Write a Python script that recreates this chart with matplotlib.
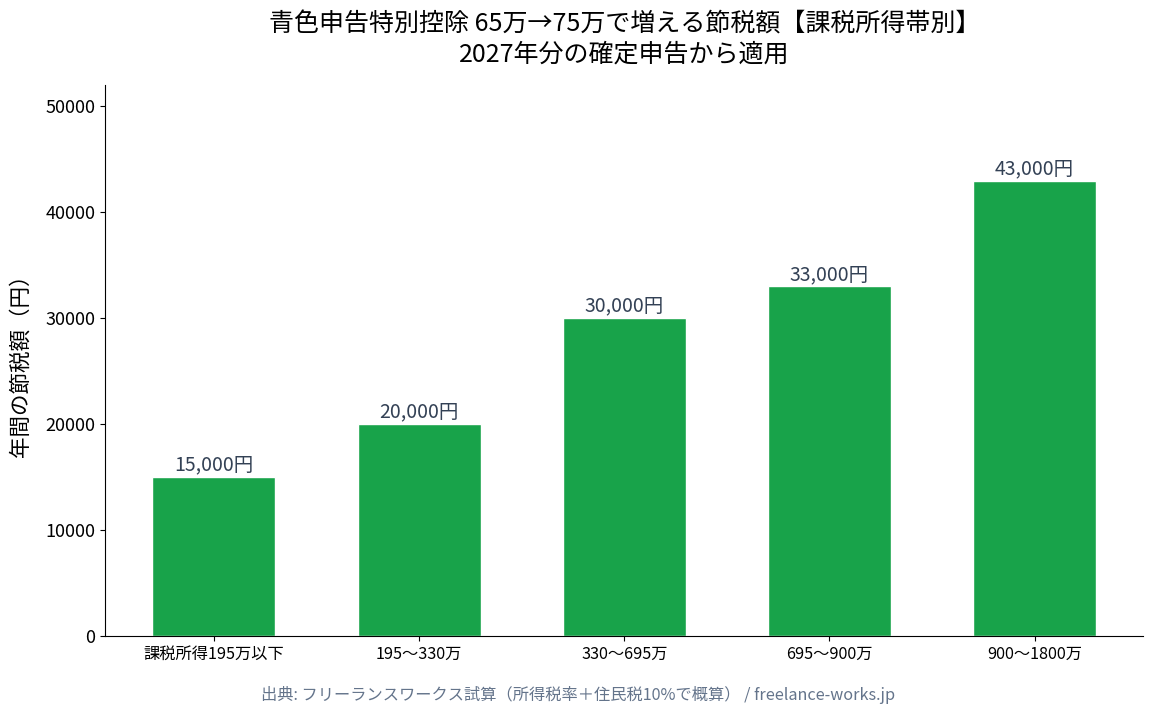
import matplotlib
matplotlib.use("Agg")
import matplotlib.pyplot as plt

plt.rcParams['font.family'] = ['Noto Sans CJK JP', 'DejaVu Sans']

# データ
categories = ['課税所得195万以下', '195〜330万', '330〜695万', '695〜900万', '900〜1800万']
savings = [15000, 20000, 30000, 33000, 43000]
bar_labels = ['15,000円', '20,000円', '30,000円', '33,000円', '43,000円']

fig, ax = plt.subplots(figsize=(11.56, 7.16), dpi=100)
fig.subplots_adjust(left=0.091, right=0.989, top=0.881, bottom=0.112)

x = range(len(categories))
bars = ax.bar(x, savings, width=0.6, color='#18a34a', edgecolor='white', linewidth=1)

for b, lab in zip(bars, bar_labels):
    ax.text(b.get_x() + b.get_width() / 2, b.get_height() + 150, lab,
            ha='center', va='bottom', fontsize=14, color='#334155')

ax.set_xticks(list(x))
ax.set_xticklabels(categories, fontsize=11.7)
ax.tick_params(axis='y', labelsize=13)
ax.set_ylim(0, 52000)
ax.set_ylabel('年間の節税額（円）', fontsize=15.5, labelpad=10)
ax.spines['top'].set_visible(False)
ax.spines['right'].set_visible(False)

ax.set_title('青色申告特別控除 65万→75万で増える節税額【課税所得帯別】\n2027年分の確定申告から適用',
             fontsize=18, pad=17, linespacing=1.2)

fig.text(0.5, 0.022, '出典: フリーランスワークス試算（所得税率＋住民税10%で概算） / freelance-works.jp',
         ha='center', fontsize=11.7, color='#64748b')

plt.savefig('out.png', dpi=100)
